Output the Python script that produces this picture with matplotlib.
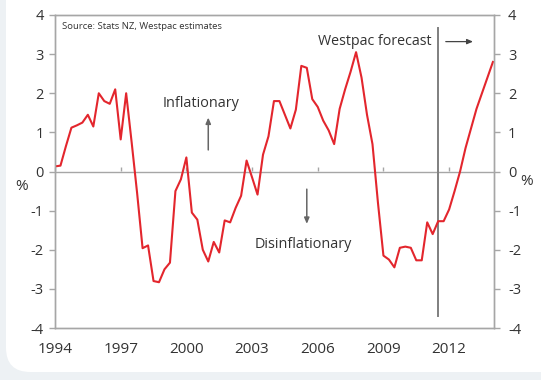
import numpy as np
import matplotlib
matplotlib.use("Agg")
import matplotlib.pyplot as plt
from matplotlib.patches import FancyBboxPatch

plt.rcParams['font.family'] = ['Open Sans', 'DejaVu Sans']

# Quarterly series, starting 1994 Q1
start_year = 1994
values = [
    0.13, 0.15, 0.65, 1.12, 1.18, 1.25, 1.45, 1.15, 2.0, 1.8,
    1.73, 2.1, 0.82, 2.0, 0.75, -0.55, -1.96, -1.89, -2.8, -2.83,
    -2.5, -2.33, -0.5, -0.2, 0.36, -1.05, -1.23, -2.0, -2.3, -1.8,
    -2.07, -1.25, -1.3, -0.93, -0.62, 0.28, -0.15, -0.59, 0.43, 0.9,
    1.8, 1.8, 1.45, 1.1, 1.58, 2.7, 2.65, 1.85, 1.65, 1.3,
    1.05, 0.7, 1.6, 2.1, 2.55, 3.05, 2.4, 1.45, 0.7, -0.8,
    -2.15, -2.25, -2.45, -1.95, -1.92, -1.95, -2.27, -2.27, -1.3, -1.6,
    -1.27, -1.27, -0.97, -0.5, 0.0, 0.6, 1.1, 1.6, 2.0, 2.4,
    2.8,
]
x_ticks = [1994, 1997, 2000, 2003, 2006, 2009, 2012]
y_ticks = [-4, -3, -2, -1, 0, 1, 2, 3, 4]
forecast_start = 2011.5

dates = start_year + np.arange(len(values)) / 4.0

W, H = 541, 380
fig = plt.figure(figsize=(W / 100, H / 100), dpi=100)
fig.patch.set_facecolor('#edf1f4')

# white rounded panel behind everything
panel = FancyBboxPatch((6 / W, 8 / H), 1.2, 1.2,
                       boxstyle="round,pad=0,rounding_size=0.045",
                       mutation_aspect=W / H,
                       transform=fig.transFigure, facecolor='white',
                       edgecolor='none', zorder=-10)
fig.patches.append(panel)

ax = fig.add_axes([55 / W, (H - 328) / H, (494 - 55) / W, (328 - 15) / H])
ax.set_facecolor('none')

grey = '#a6a6a6'
txt = '#333333'

ax.plot(dates, values, color='#e3262d', lw=1.5, zorder=3)
ax.axhline(0, color=grey, lw=1.0, zorder=1)

ax.set_xlim(1994, 2014.05)
ax.set_ylim(-4, 4)

for s in ax.spines.values():
    s.set_color(grey)
    s.set_linewidth(1.0)

ax.set_yticks(y_ticks)
ax.set_yticklabels([str(v) for v in y_ticks])
ax.tick_params(axis='y', direction='out', length=4, color=grey, width=1,
               labelsize=10.5, labelcolor=txt, pad=4)
ax.set_xticks(x_ticks)
ax.set_xticklabels([str(v) for v in x_ticks])
ax.tick_params(axis='x', length=0, labelsize=11, labelcolor=txt, pad=10)

# year ticks sit on the zero line
sec = ax.secondary_xaxis(0.5)
sec.set_xticks(x_ticks)
sec.set_xticklabels([])
sec.tick_params(axis='x', direction='out', length=3, color=grey, width=1)
for s in sec.spines.values():
    s.set_visible(False)

axr = ax.twinx()
axr.set_ylim(-4, 4)
axr.set_yticks(y_ticks)
axr.set_yticklabels([str(v) for v in y_ticks])
axr.tick_params(axis='y', direction='out', length=4, color=grey, width=1,
                labelsize=10.5, labelcolor=txt, pad=6)
for s in axr.spines.values():
    s.set_color(grey)
    s.set_linewidth(1.0)

# forecast divider
ax.plot([forecast_start, forecast_start], [-3.7, 3.67], color='#7f7f7f', lw=1.4, zorder=2)

ax.text(1994.32, 3.7, 'Source: Stats NZ, Westpac estimates', fontsize=6.8,
        color=txt, ha='left', va='center')

ax.text(2000.69, 1.73, 'Inflationary', fontsize=10.4, color=txt, ha='center', va='center')
ax.annotate('', xy=(2001.0, 1.45), xytext=(2001.0, 0.48),
            arrowprops=dict(arrowstyle='-|>,head_length=0.35,head_width=0.15',
                            color='#666666', lw=1.1))

ax.text(2005.32, -1.86, 'Disinflationary', fontsize=10.4, color=txt, ha='center', va='center')
ax.annotate('', xy=(2005.5, -1.41), xytext=(2005.5, -0.38),
            arrowprops=dict(arrowstyle='-|>,head_length=0.35,head_width=0.15',
                            color='#666666', lw=1.1))

ax.text(2011.2, 3.32, 'Westpac forecast', fontsize=10.3, color=txt, ha='right', va='center')
ax.annotate('', xy=(2013.22, 3.32), xytext=(2011.72, 3.32),
            arrowprops=dict(arrowstyle='-|>,head_length=0.35,head_width=0.15',
                            color='#444444', lw=0.9))

fig.text(22 / W, 1 - 186 / H, '%', fontsize=11, color=txt, ha='center', va='center')
fig.text(527 / W, 1 - 182 / H, '%', fontsize=11, color=txt, ha='center', va='center')

fig.savefig('out.png', dpi=100, facecolor=fig.get_facecolor())
